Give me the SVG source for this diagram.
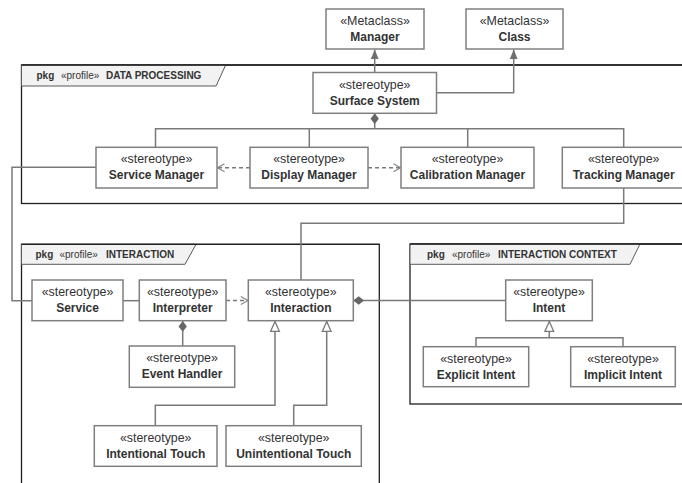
<svg xmlns="http://www.w3.org/2000/svg" width="682" height="483" viewBox="0 0 682 483">
  <style>
    .frame { fill: none; stroke: #1f1f1f; stroke-width: 1.3; }
    .tab { fill: #f2f2f2; stroke: #5a5a5a; stroke-width: 1; }
    .box { fill: #ffffff; stroke: #7f7f7f; stroke-width: 1.5; }
    .st { font-family: "Liberation Sans", Arial, sans-serif; font-size: 12.4px; fill: #333333; text-anchor: middle; }
    .nm { font-family: "Liberation Sans", Arial, sans-serif; font-size: 12px; font-weight: bold; fill: #333333; text-anchor: middle; }
    .pk { font-family: "Liberation Sans", Arial, sans-serif; font-size: 10px; font-weight: bold; fill: #333333; }
    .pr { font-family: "Liberation Sans", Arial, sans-serif; font-size: 10px; fill: #333333; }
    .edge { fill: none; stroke: #7a7a7a; stroke-width: 1.5; }
    .dash { stroke-dasharray: 4 3; }
  </style>
  <defs>
    <!-- extension: filled triangle -->
    <marker id="ext" markerUnits="userSpaceOnUse" markerWidth="10" markerHeight="10" viewBox="0 0 9 8" refX="8.5" refY="4" orient="auto">
      <path d="M0,0.5 L8.5,4 L0,7.5 z" fill="#6f6f6f"/>
    </marker>
    <!-- generalization: hollow triangle -->
    <marker id="gen" markerUnits="userSpaceOnUse" markerWidth="12" markerHeight="12" viewBox="0 0 11 10" refX="10" refY="5" orient="auto">
      <path d="M1,1 L10,5 L1,9 z" fill="#ffffff" stroke="#7a7a7a" stroke-width="1.2"/>
    </marker>
    <!-- composition: filled diamond -->
    <marker id="dia" markerUnits="userSpaceOnUse" markerWidth="12" markerHeight="10" viewBox="0 0 10 8" refX="0" refY="4" orient="auto">
      <path d="M0,4 L4.5,0.5 L9,4 L4.5,7.5 z" fill="#666666"/>
    </marker>
    <!-- dependency: open chevron -->
    <marker id="dep" markerUnits="userSpaceOnUse" markerWidth="10" markerHeight="10" viewBox="0 0 9 10" refX="8" refY="5" orient="auto">
      <path d="M1,1 L8,5 L1,9" fill="none" stroke="#8a8a8a" stroke-width="1.3"/>
    </marker>
  </defs>

  <rect width="682" height="483" fill="#ffffff"/>

  <!-- package frames -->
  <g id="pkg-data-processing">
    <rect class="frame" x="21.5" y="65" width="690" height="138.5"/>
    <path class="tab" d="M21.5,65 H225.7 L216,86 H21.5 z"/>
    <path class="frame" d="M21.5,65 H700"/>
    <text class="pk" x="36.5" y="79">pkg</text>
    <text class="pr" x="61" y="79">«profile»</text>
    <text class="pk" x="106" y="79">DATA PROCESSING</text>
  </g>
  <g id="pkg-interaction">
    <rect class="frame" x="21.5" y="244.3" width="357.8" height="260"/>
    <path class="tab" d="M21.5,244.3 H196 L185,264.3 H21.5 z"/>
    <path class="frame" d="M21.5,244.3 H379.3"/>
    <text class="pk" x="35.5" y="258">pkg</text>
    <text class="pr" x="59.5" y="258">«profile»</text>
    <text class="pk" x="106" y="258">INTERACTION</text>
  </g>
  <g id="pkg-interaction-context">
    <rect class="frame" x="410" y="244" width="290" height="160"/>
    <path class="tab" d="M410,244 H640 L630,264.3 H410 z"/>
    <path class="frame" d="M410,244 H700"/>
    <text class="pk" x="427" y="258">pkg</text>
    <text class="pr" x="452" y="258">«profile»</text>
    <text class="pk" x="498" y="258">INTERACTION CONTEXT</text>
  </g>

  <!-- connectors -->
  <g id="connectors">
    <path class="edge" d="M374.7,72.5 V49.5" marker-end="url(#ext)"/>
    <path class="edge" d="M436.5,92.7 H513.7 V49.5" marker-end="url(#ext)"/>
    <path class="edge" d="M374.7,113.3 V128.7" marker-start="url(#dia)"/>
    <path class="edge" d="M155.5,147.3 V128.7 H623.7 V147.3"/>
    <path class="edge" d="M309.3,128.7 V147.3"/>
    <path class="edge" d="M467.7,128.7 V147.3"/>
    <path class="edge dash" d="M250,167.7 H217.5" marker-end="url(#dep)"/>
    <path class="edge dash" d="M368,167.7 H400.5" marker-end="url(#dep)"/>
    <path class="edge" d="M96,167.3 H12 V300.7 H32"/>
    <path class="edge" d="M623.7,188 V223.3 H301 V280"/>
    <path class="edge" d="M123,300.7 H139.3"/>
    <path class="edge dash" d="M226,300.5 H247.8" marker-end="url(#dep)"/>
    <path class="edge" d="M182.7,321 V346" marker-start="url(#dia)"/>
    <path class="edge" d="M353.3,300.5 H505.7" marker-start="url(#dia)"/>
    <path class="edge" d="M155.3,425.7 V405.3 H275 V321.5" marker-end="url(#gen)"/>
    <path class="edge" d="M293.7,425.7 V405.3 H326.7 V321.5" marker-end="url(#gen)"/>
    <path class="edge" d="M476,346.7 V337.7 H623 V346.7"/>
    <path class="edge" d="M549.3,337.7 V321.5" marker-end="url(#gen)"/>
  </g>

  <!-- nodes -->
  <g id="manager">
    <rect class="box" x="326" y="9" width="98" height="40"/>
    <text class="st" x="375" y="25">«Metaclass»</text>
    <text class="nm" x="375" y="41">Manager</text>
  </g>
  <g id="class">
    <rect class="box" x="466" y="9" width="97" height="40"/>
    <text class="st" x="514.5" y="25">«Metaclass»</text>
    <text class="nm" x="514.5" y="41">Class</text>
  </g>
  <g id="surface-system">
    <rect class="box" x="313" y="72.5" width="123.5" height="40.8"/>
    <text class="st" x="374.7" y="88.5">«stereotype»</text>
    <text class="nm" x="374.7" y="104.5">Surface System</text>
  </g>
  <g id="service-manager">
    <rect class="box" x="96" y="147.3" width="121" height="40.7"/>
    <text class="st" x="156.5" y="163.3">«stereotype»</text>
    <text class="nm" x="156.5" y="179.3">Service Manager</text>
  </g>
  <g id="display-manager">
    <rect class="box" x="250" y="147.3" width="118" height="40.7"/>
    <text class="st" x="309" y="163.3">«stereotype»</text>
    <text class="nm" x="309" y="179.3">Display Manager</text>
  </g>
  <g id="calibration-manager">
    <rect class="box" x="401" y="147.3" width="133" height="40.7"/>
    <text class="st" x="467.5" y="163.3">«stereotype»</text>
    <text class="nm" x="467.5" y="179.3">Calibration Manager</text>
  </g>
  <g id="tracking-manager">
    <rect class="box" x="562.3" y="147.3" width="122.8" height="40.7"/>
    <text class="st" x="623.7" y="163.3">«stereotype»</text>
    <text class="nm" x="623.7" y="179.3">Tracking Manager</text>
  </g>
  <g id="service">
    <rect class="box" x="32" y="280" width="91" height="40.7"/>
    <text class="st" x="77.5" y="296">«stereotype»</text>
    <text class="nm" x="77.5" y="312">Service</text>
  </g>
  <g id="interpreter">
    <rect class="box" x="139.3" y="280" width="86.7" height="40.7"/>
    <text class="st" x="182.7" y="296">«stereotype»</text>
    <text class="nm" x="182.7" y="312">Interpreter</text>
  </g>
  <g id="interaction">
    <rect class="box" x="248.3" y="280" width="105" height="40.7"/>
    <text class="st" x="300.8" y="296">«stereotype»</text>
    <text class="nm" x="300.8" y="312">Interaction</text>
  </g>
  <g id="event-handler">
    <rect class="box" x="129.3" y="346" width="105.4" height="41.3"/>
    <text class="st" x="182" y="362">«stereotype»</text>
    <text class="nm" x="182" y="378">Event Handler</text>
  </g>
  <g id="intentional-touch">
    <rect class="box" x="94.3" y="425.7" width="122.7" height="40.6"/>
    <text class="st" x="155.7" y="441.7">«stereotype»</text>
    <text class="nm" x="155.7" y="457.7">Intentional Touch</text>
  </g>
  <g id="unintentional-touch">
    <rect class="box" x="226" y="425.7" width="135.3" height="40.6"/>
    <text class="st" x="293.7" y="441.7">«stereotype»</text>
    <text class="nm" x="293.7" y="457.7">Unintentional Touch</text>
  </g>
  <g id="intent">
    <rect class="box" x="505.7" y="280" width="86.6" height="40.7"/>
    <text class="st" x="549" y="296">«stereotype»</text>
    <text class="nm" x="549" y="312">Intent</text>
  </g>
  <g id="explicit-intent">
    <rect class="box" x="423.3" y="346.7" width="105.4" height="40"/>
    <text class="st" x="476" y="362.5">«stereotype»</text>
    <text class="nm" x="476" y="378.5">Explicit Intent</text>
  </g>
  <g id="implicit-intent">
    <rect class="box" x="570.7" y="346.7" width="104.6" height="40"/>
    <text class="st" x="623" y="362.5">«stereotype»</text>
    <text class="nm" x="623" y="378.5">Implicit Intent</text>
  </g>
</svg>
